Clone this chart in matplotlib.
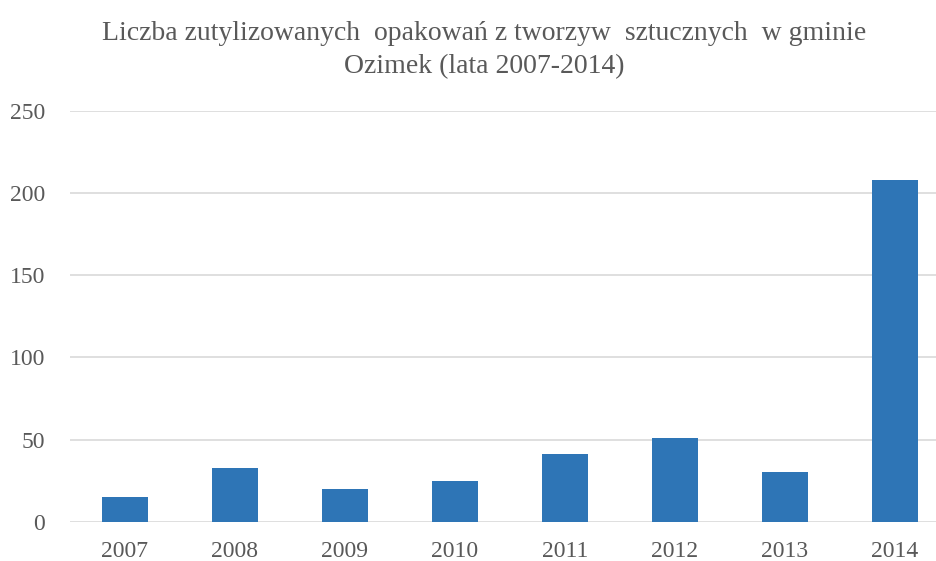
import numpy as np
import matplotlib
matplotlib.use("Agg")
import matplotlib.pyplot as plt

# values
years = ["2007", "2008", "2009", "2010", "2011", "2012", "2013", "2014"]
counts = [15, 33, 20, 25, 41, 51, 30, 208]
y_ticks = [0, 50, 100, 150, 200, 250]

title = "Liczba zutylizowanych  opakowań z tworzyw  sztucznych  w gminie\nOzimek (lata 2007-2014)"

plt.rcParams['font.family'] = ['Liberation Serif', 'DejaVu Serif']

fig = plt.figure(figsize=(9.37, 5.61), dpi=100)
# the plot area runs past the right edge of the picture, as in the original
ax = fig.add_axes([0.0747, 0.070, 0.939, 0.732])

x = np.arange(len(years))
ax.bar(x, counts, width=0.42, color="#2E75B6", zorder=3)

ax.set_xlim(-0.5, len(years) - 0.5)
ax.set_ylim(0, 250)
ax.set_yticks(y_ticks)
ax.set_xticks(x)
ax.set_xticklabels(years)

ax.grid(axis='y', color="#D9D9D9", linewidth=1.2, zorder=0)
ax.set_axisbelow(True)
for s in ax.spines.values():
    s.set_visible(False)

ax.tick_params(axis='both', length=0, labelsize=17, colors="#595959")
ax.tick_params(axis='y', pad=18)
ax.tick_params(axis='x', pad=14)

fig.text(0.517, 0.963, title, ha='center', va='top', fontsize=20,
         color="#595959", linespacing=1.45)

fig.savefig("out.png", dpi=100)
